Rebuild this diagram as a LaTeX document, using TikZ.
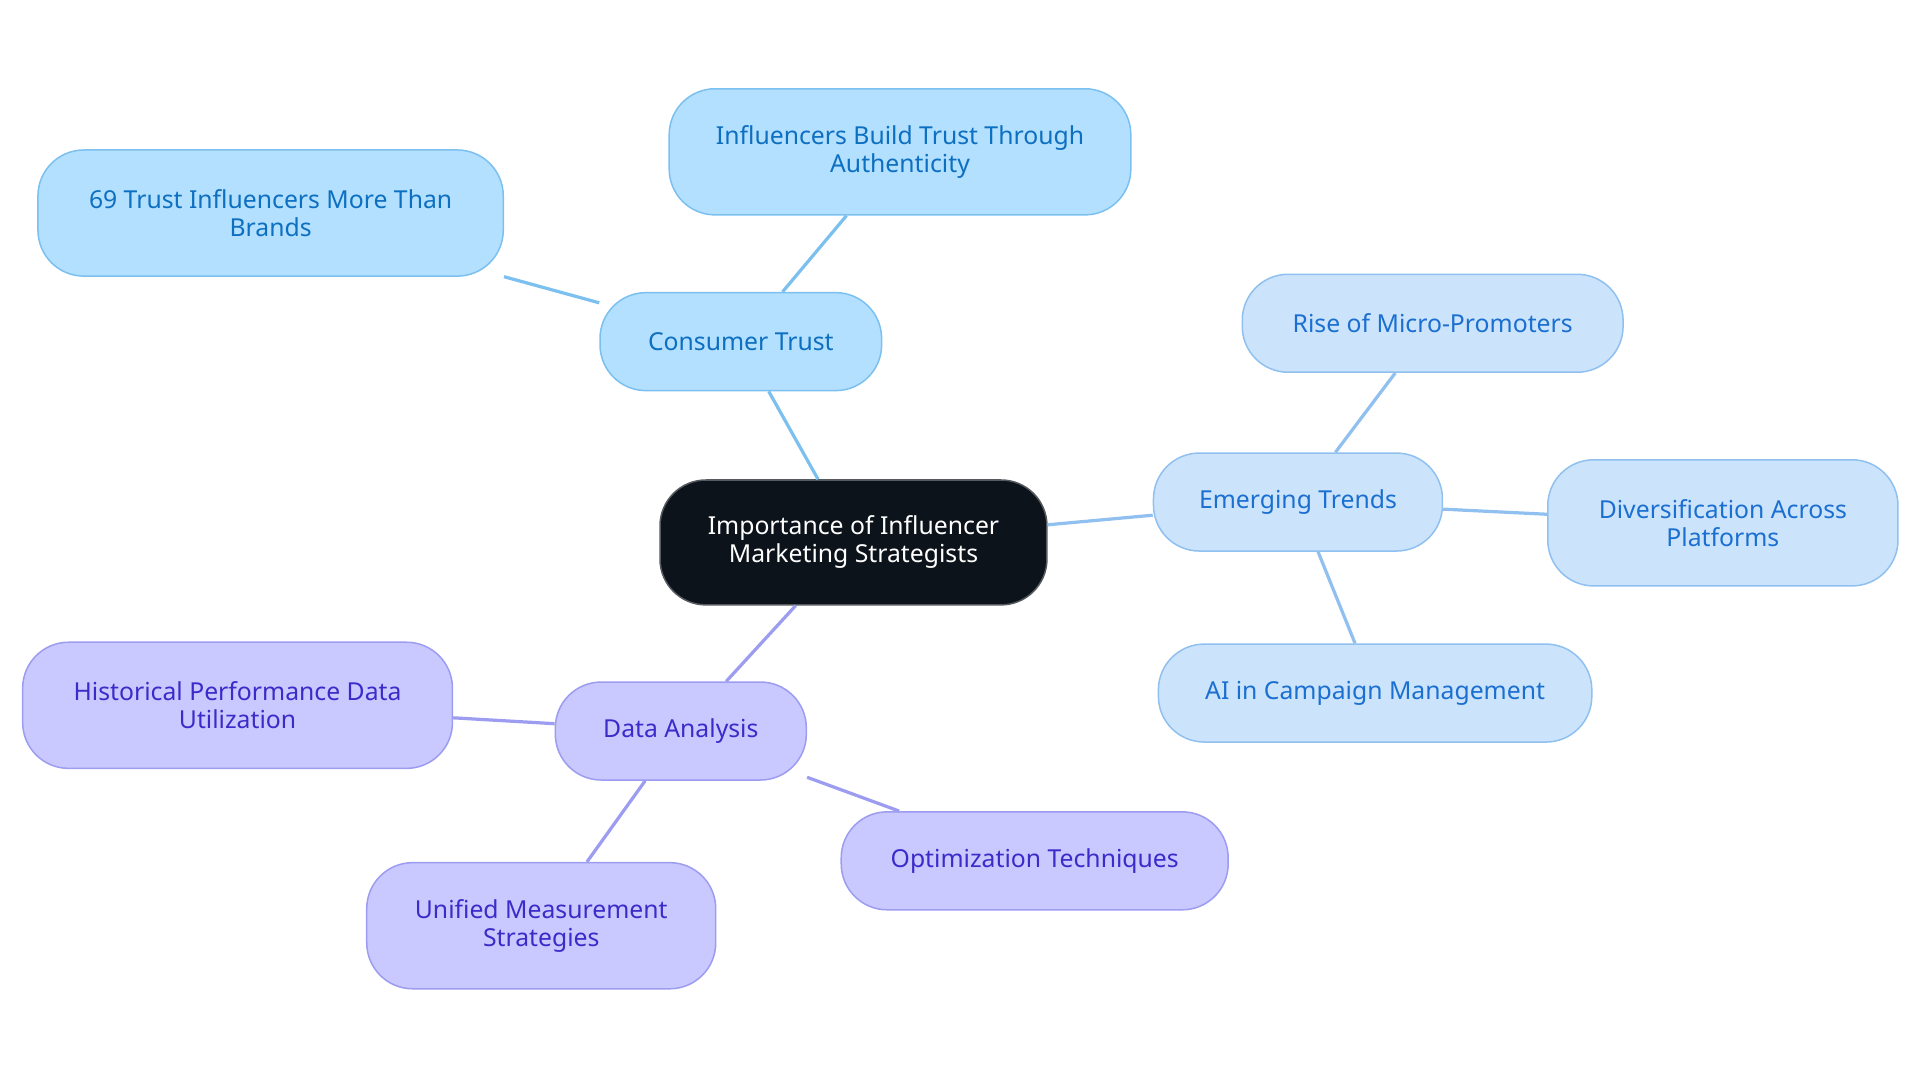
\documentclass[tikz,border=0pt]{standalone}
\usepackage{fontspec}
\setmainfont{Noto Sans}
\usetikzlibrary{positioning}
\definecolor{rootfill}{HTML}{0D131B}
\definecolor{trustfill}{HTML}{B3E0FF}
\definecolor{trustdraw}{HTML}{7CC0F0}
\definecolor{trusttext}{HTML}{0D6FC0}
\definecolor{trendfill}{HTML}{CCE4FB}
\definecolor{trenddraw}{HTML}{90C0F0}
\definecolor{trendtext}{HTML}{1A6FD0}
\definecolor{datafill}{HTML}{C9C9FF}
\definecolor{datadraw}{HTML}{9C9CF0}
\definecolor{datatext}{HTML}{3B2BC8}
\tikzset{
  box/.style={rectangle, rounded corners=0.75cm, align=center, line width=0.7pt,
    font=\fontsize{11.5}{13}\selectfont, inner sep=0pt},
  root/.style={box, fill=rootfill, draw=rootfill!70, text=white},
  trust/.style={box, fill=trustfill, draw=trustdraw, text=trusttext},
  trend/.style={box, fill=trendfill, draw=trenddraw, text=trendtext},
  data/.style={box, fill=datafill, draw=datadraw, text=datatext},
  link/.style={line width=1.5pt}
}
\begin{document}
\begin{tikzpicture}
\useasboundingbox (0,0) rectangle (31.36,-17.68);

% Nodes
\node (root) [root, minimum width=6.32cm, minimum height=2.04cm] at (13.94,-8.86) {Importance of Influencer\\Marketing Strategists};
\node (trust) [trust, minimum width=4.6cm, minimum height=1.6cm] at (12.1,-5.58) {Consumer Trust};
\node (build) [trust, minimum width=7.54cm, minimum height=2.06cm] at (14.7,-2.48) {Influencers Build Trust Through\\Authenticity};
\node (brands) [trust, minimum width=7.6cm, minimum height=2.06cm] at (4.42,-3.48) {69 Trust Influencers More Than\\Brands};
\node (trends) [trend, minimum width=4.72cm, minimum height=1.6cm] at (21.2,-8.2) {Emerging Trends};
\node (micro) [trend, minimum width=6.22cm, minimum height=1.6cm] at (23.4,-5.28) {Rise of Micro-Promoters};
\node (divers) [trend, minimum width=5.72cm, minimum height=2.06cm] at (28.14,-8.54) {Diversification Across\\Platforms};
\node (ai) [trend, minimum width=7.08cm, minimum height=1.6cm] at (22.46,-11.32) {AI in Campaign Management};
\node (data) [data, minimum width=4.1cm, minimum height=1.6cm] at (11.12,-11.94) {Data Analysis};
\node (hist) [data, minimum width=7.02cm, minimum height=2.06cm] at (3.88,-11.52) {Historical Performance Data\\Utilization};
\node (unified) [data, minimum width=5.7cm, minimum height=2.06cm] at (8.84,-15.12) {Unified Measurement\\Strategies};
\node (optim) [data, minimum width=6.32cm, minimum height=1.6cm] at (16.9,-14.06) {Optimization Techniques};

% Links
\draw [link, trustdraw] (root) -- (trust);
\draw [link, trustdraw] (trust) -- (build);
\draw [link, trustdraw] (trust) -- (brands);
\draw [link, trenddraw] (root) -- (trends);
\draw [link, trenddraw] (trends) -- (micro);
\draw [link, trenddraw] (trends) -- (divers);
\draw [link, trenddraw] (trends) -- (ai);
\draw [link, datadraw] (root) -- (data);
\draw [link, datadraw] (data) -- (hist);
\draw [link, datadraw] (data) -- (unified);
\draw [link, datadraw] (data) -- (optim);

\end{tikzpicture}
\end{document}
